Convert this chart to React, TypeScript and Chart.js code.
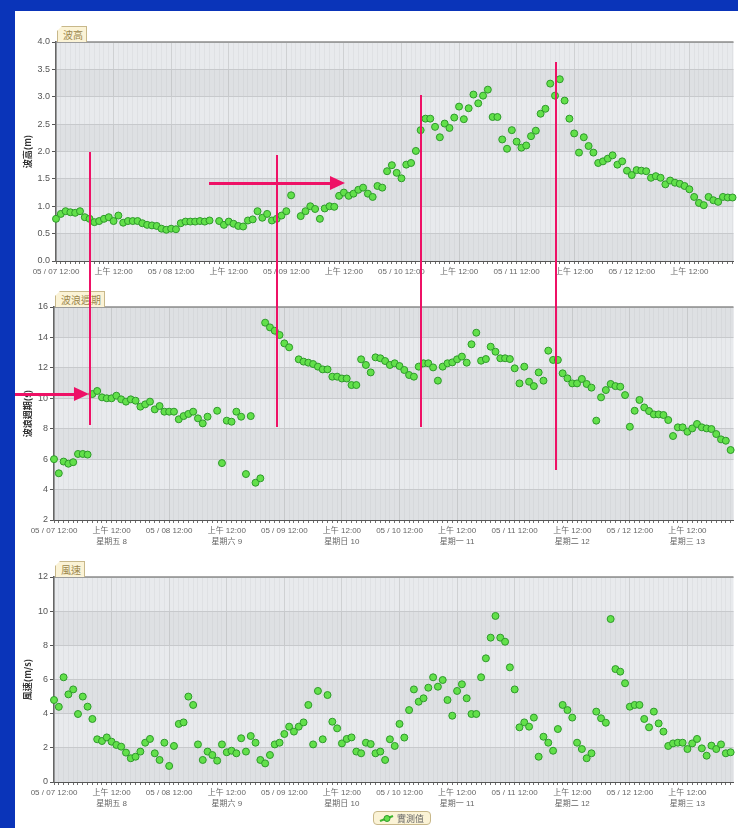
import React, { useEffect, useRef } from "react";
import { Chart, registerables } from "chart.js";

Chart.register(...registerables);

// ---------- data (hourly, starting 05/07 12:00) ----------
const tickHours = [0, 12, 24, 36, 48, 60, 72, 84, 96, 108, 120, 132];
const noonLabels = ["05 / 07 12:00", "05 / 08 12:00", "05 / 09 12:00", "05 / 10 12:00", "05 / 11 12:00", "05 / 12 12:00"];
const midnightLabel = "上午 12:00";
const dayLabels = ["星期五 8", "星期六 9", "星期日 10", "星期一 11", "星期二 12", "星期三 13"];
const seriesName = "實測值";

const waveHeight: (number | null)[] = [
  0.77, 0.86, 0.91, 0.89, 0.88, 0.91, 0.80, 0.77, 0.71, 0.73, 0.77, 0.80, 0.73, 0.83, 0.70, 0.73,
  0.73, 0.73, 0.69, 0.66, 0.65, 0.64, 0.59, 0.57, 0.59, 0.58, 0.69, 0.72, 0.72, 0.72, 0.73, 0.72, 0.74,
  null,
  0.73, 0.66, 0.72, 0.68, 0.64, 0.63, 0.74, 0.76, 0.91, 0.79, 0.86, 0.74, 0.77, 0.83, 0.91, 1.20,
  null,
  0.82, 0.91, 1.00, 0.95, 0.77, 0.96, 1.00, 0.99, 1.19, 1.25, 1.19, 1.23, 1.30, 1.34, 1.23, 1.17,
  1.37, 1.34, 1.64, 1.75, 1.61, 1.51, 1.76, 1.79, 2.01, 2.39, 2.60, 2.60, 2.45, 2.26, 2.51, 2.43,
  2.62, 2.82, 2.59, 2.79, 3.04, 2.88, 3.02, 3.13, 2.63, 2.63, 2.22, 2.05, 2.39, 2.18, 2.07, 2.11,
  2.28, 2.38, 2.69, 2.78, 3.24, 3.02, 3.32, 2.93, 2.60, 2.33, 1.98, 2.26, 2.10, 1.98, 1.79, 1.82,
  1.87, 1.93, 1.76, 1.82, 1.65, 1.57, 1.66, 1.65, 1.64, 1.52, 1.55, 1.52, 1.40, 1.47, 1.43, 1.41,
  1.37, 1.31, 1.17, 1.06, 1.02, 1.17, 1.11, 1.08, 1.17, 1.16, 1.16,
];

const wavePeriod: (number | null)[] = [
  6.0, 5.07, 5.84, 5.7, 5.8, 6.34, 6.34, 6.3, 10.28, 10.48, 10.06, 10.0, 10.0, 10.17, 9.93, 9.78,
  9.93, 9.84, 9.45, 9.6, 9.78, 9.27, 9.49, 9.12, 9.12, 9.12, 8.62, 8.83, 8.97, 9.12, 8.68, 8.35, 8.79,
  null,
  9.18, 5.74, 8.53, 8.46, 9.12, 8.79, 5.02, 8.83, 4.45, 4.74, 14.97, 14.66, 14.44, 14.16, 13.61, 13.35,
  null,
  12.56, 12.41, 12.34, 12.25, 12.08, 11.9, 11.9, 11.42, 11.42, 11.3, 11.3, 10.87, 10.87, 12.56, 12.19, 11.7,
  12.69, 12.63, 12.45, 12.19, 12.3, 12.12, 11.86, 11.53, 11.42, 12.08, 12.3, 12.3, 12.03, 11.16, 12.08, 12.3,
  12.36, 12.56, 12.74, 12.34, 13.55, 14.31, 12.47, 12.58, 13.39, 13.06, 12.63, 12.63, 12.58, 11.97, 10.98, 12.08,
  11.09, 10.8, 11.7, 11.16, 13.13, 12.52, 12.52, 11.64, 11.31, 10.98, 10.98, 11.27, 10.94, 10.7, 8.53, 10.06,
  10.54, 10.94, 10.8, 10.76, 10.21, 8.13, 9.18, 9.89, 9.4, 9.16, 8.94, 8.94, 8.9, 8.57, 7.52, 8.09,
  8.09, 7.8, 8.02, 8.31, 8.09, 8.02, 7.98, 7.65, 7.3, 7.21, 6.6,
];

const windSpeed: (number | null)[] = [
  4.8, 4.4, 6.13, 5.13, 5.42, 3.98, 5.0, 4.41, 3.69, 2.5, 2.4, 2.61, 2.36, 2.17, 2.07, 1.72,
  1.39, 1.48, 1.78, 2.3, 2.52, 1.68, 1.29, 2.3, 0.94, 2.11, 3.4, 3.49, 5.0, 4.51, 2.2, 1.29,
  1.78, 1.58, 1.25, 2.2, 1.74, 1.83, 1.68, 2.56, 1.78, 2.69, 2.3, 1.29, 1.09, 1.58, 2.2, 2.3,
  2.81, 3.24, 2.95, 3.24, 3.49, 4.51, 2.2, 5.33, 2.5, 5.09, 3.53, 3.14, 2.26, 2.52, 2.61, 1.78,
  1.68, 2.3, 2.22, 1.68, 1.78, 1.29, 2.5, 2.11, 3.4, 2.6, 4.21, 5.42, 4.7, 4.9, 5.52, 6.13,
  5.58, 5.97, 4.8, 3.88, 5.33, 5.72, 4.9, 3.98, 3.98, 6.13, 7.24, 8.45, 9.72, 8.45, 8.21, 6.71,
  5.42, 3.2, 3.49, 3.24, 3.77, 1.48, 2.65, 2.3, 1.83, 3.1, 4.51, 4.21, 3.77, 2.3, 1.93, 1.39,
  1.68, 4.12, 3.73, 3.47, 9.54, 6.61, 6.46, 5.78, 4.41, 4.51, 4.51, 3.69, 3.2, 4.12, 3.43, 2.95,
  2.11, 2.26, 2.3, 2.3, 1.93, 2.26, 2.52, 1.97, 1.54, 2.13, 1.93, 2.2, 1.68, 1.74,
];

// ---------- styling ----------
const LABEL_FONT = "'Liberation Sans', 'Noto Sans CJK TC', sans-serif";
const CJK_FONT = "'Noto Sans CJK TC', 'Liberation Sans', sans-serif";
const RED = "#ee1166";

type PanelCfg = {
  key: string;
  values: (number | null)[];
  yMin: number;
  yMax: number;
  yStep: number;
  decimals: number;
  yTitle: string;
  showDays: boolean;
  top: number;
  height: number;
  yAxisW: number;
  xAxisH: number;
  xMax: number;
};

const panels: PanelCfg[] = [
  { key: "h", values: waveHeight, yMin: 0, yMax: 4, yStep: 0.5, decimals: 1, yTitle: "波高(m)", showDays: false, top: 30, height: 251, yAxisW: 41, xAxisH: 20, xMax: 141.2 },
  { key: "p", values: wavePeriod, yMin: 2, yMax: 16, yStep: 2, decimals: 0, yTitle: "波浪週期(s)", showDays: true, top: 295, height: 257, yAxisW: 39, xAxisH: 32, xMax: 141.6 },
  { key: "w", values: windSpeed, yMin: 0, yMax: 12, yStep: 2, decimals: 0, yTitle: "風速(m/s)", showDays: true, top: 565, height: 249, yAxisW: 39, xAxisH: 32, xMax: 141.6 },
];

const bandPlugin = {
  id: "bands",
  beforeDraw(chart: any) {
    const { ctx, chartArea, scales } = chart;
    const { left, right, top, bottom } = chartArea;
    const y = scales.y;
    ctx.save();
    ctx.fillStyle = "#e8eaed";
    ctx.fillRect(left, top, right - left, bottom - top);
    const ticks = y.ticks;
    for (let i = 0; i < ticks.length - 1; i++) {
      if (i % 2 === 0) {
        const y0 = y.getPixelForValue(ticks[i].value);
        const y1 = y.getPixelForValue(ticks[i + 1].value);
        ctx.fillStyle = "#dee0e3";
        ctx.fillRect(left, y1, right - left, y0 - y1);
      }
    }
    ctx.restore();
  },
  afterDraw(chart: any) {
    const { ctx, chartArea } = chart;
    ctx.save();
    ctx.strokeStyle = "#8c8c8c";
    ctx.lineWidth = 1.5;
    ctx.beginPath();
    ctx.moveTo(chartArea.left, chartArea.top);
    ctx.lineTo(chartArea.right, chartArea.top);
    ctx.stroke();
    ctx.restore();
  },
};

function xLabel(value: number, showDays: boolean): string | string[] {
  if (!tickHours.includes(value)) return "";
  const idx = value / 12;
  if (idx % 2 === 0) return noonLabels[idx / 2];
  const day = dayLabels[(idx - 1) / 2];
  return showDays ? [midnightLabel, day] : midnightLabel;
}

function Panel({ cfg }: { cfg: PanelCfg }) {
  const ref = useRef<HTMLCanvasElement | null>(null);
  useEffect(() => {
    const pts: { x: number; y: number }[] = [];
    cfg.values.forEach((v, i) => {
      if (v !== null) pts.push({ x: i, y: v });
    });
    const hourly: { value: number }[] = [];
    for (let h = 0; h <= Math.floor(cfg.xMax); h++) hourly.push({ value: h });

    const chart = new Chart(ref.current as HTMLCanvasElement, {
      type: "scatter",
      data: {
        datasets: [
          {
            label: seriesName,
            data: pts,
            backgroundColor: "#62e04a",
            borderColor: "#2f9a2c",
            borderWidth: 1,
            pointRadius: 3.5,
            pointHoverRadius: 3.5,
            clip: 8,
          } as any,
        ],
      },
      options: {
        responsive: false,
        animation: false,
        devicePixelRatio: 1,
        layout: { padding: { top: 12, left: 0, right: 0, bottom: 0 } },
        plugins: { legend: { display: false }, tooltip: { enabled: false } },
        scales: {
          x: {
            type: "linear",
            min: 0,
            max: cfg.xMax,
            afterBuildTicks: (s: any) => {
              s.ticks = hourly.map((t) => ({ value: t.value }));
            },
            afterFit: (s: any) => {
              s.height = cfg.xAxisH;
            },
            ticks: {
              autoSkip: false,
              maxRotation: 0,
              minRotation: 0,
              padding: 2,
              color: "#666",
              font: { family: LABEL_FONT, size: 8, lineHeight: 1.4 },
              callback: (v: any) => xLabel(Number(v), cfg.showDays),
            },
            grid: {
              color: (c: any) =>
                c.tick && c.tick.value % 12 === 0 ? "rgba(110,110,110,0.2)" : "rgba(0,0,0,0.035)",
              tickLength: 3,
              tickColor: "#6f6f6f",
            },
            border: { color: "#555", width: 1 },
          },
          y: {
            min: cfg.yMin,
            max: cfg.yMax,
            afterFit: (s: any) => {
              s.width = cfg.yAxisW;
            },
            ticks: {
              stepSize: cfg.yStep,
              padding: 2,
              color: "#555",
              font: { family: LABEL_FONT, size: 9 },
              callback: (v: any) => Number(v).toFixed(cfg.decimals),
            },
            title: {
              display: true,
              text: cfg.yTitle,
              color: "#333",
              font: { family: CJK_FONT, size: 9, weight: "bold" },
              padding: { top: 7, bottom: 0 },
            },
            grid: { color: "#c7c9cc", tickLength: 4, tickColor: "#555" },
            border: { color: "#666", width: 1.5 },
          },
        },
      } as any,
      plugins: [bandPlugin],
    });
    return () => chart.destroy();
  }, [cfg]);
  return (
    <canvas
      ref={ref}
      width={723}
      height={cfg.height}
      style={{ position: "absolute", left: 15, top: cfg.top, width: 723, height: cfg.height }}
    />
  );
}

function Tab({ text, left, top }: { text: string; left: number; top: number }) {
  return (
    <div
      style={{
        position: "absolute",
        left,
        top,
        height: 15,
        padding: "0 3px 0 5px",
        background: "#fbf3d6",
        border: "1px solid #c8b88a",
        borderBottom: "none",
        fontFamily: CJK_FONT,
        fontSize: 10,
        lineHeight: "15px",
        color: "#9a864c",
        clipPath: "polygon(5px 0, 100% 0, 100% 100%, 0 100%, 0 5px)",
        whiteSpace: "nowrap",
      }}
    >
      {text}
    </div>
  );
}

function VLine({ x, y1, y2 }: { x: number; y1: number; y2: number }) {
  return <div style={{ position: "absolute", left: x - 1, top: y1, width: 2, height: y2 - y1, background: RED }} />;
}

function Arrow({ x1, x2, y }: { x1: number; x2: number; y: number }) {
  const head = 15;
  return (
    <>
      <div style={{ position: "absolute", left: x1, top: y - 1.5, width: x2 - x1 - head + 1, height: 3, background: RED }} />
      <div
        style={{
          position: "absolute",
          left: x2 - head,
          top: y - 7,
          width: 0,
          height: 0,
          borderTop: "7px solid transparent",
          borderBottom: "7px solid transparent",
          borderLeft: `${head}px solid ${RED}`,
        }}
      />
    </>
  );
}

export default function App() {
  return (
    <div style={{ position: "absolute", left: 0, top: 0, width: 738, height: 828, overflow: "hidden", background: "#0a34b9" }}>
      <div style={{ position: "absolute", left: 15, top: 11, width: 723, height: 817, background: "#ffffff" }} />
      {panels.map((p) => (
        <Panel key={p.key} cfg={p} />
      ))}
      <Tab text="波高" left={57} top={26} />
      <Tab text="波浪週期" left={55} top={291} />
      <Tab text="風速" left={55} top={561} />
      {/* annotations */}
      <VLine x={90} y1={152} y2={425} />
      <VLine x={277} y1={155} y2={427} />
      <VLine x={421} y1={95} y2={427} />
      <VLine x={556} y1={62} y2={470} />
      <Arrow x1={209} x2={345} y={183} />
      <Arrow x1={15} x2={89} y={394} />
      {/* legend */}
      <div
        style={{
          position: "absolute",
          left: 373,
          top: 811,
          width: 58,
          height: 14,
          background: "#fbf3d6",
          border: "1px solid #c8b88a",
          borderRadius: 4,
          display: "flex",
          alignItems: "center",
          gap: 3,
          paddingLeft: 5,
          boxSizing: "border-box",
          fontFamily: CJK_FONT,
          fontSize: 9,
          color: "#666",
        }}
      >
        <svg width="15" height="10">
          <line x1="1" y1="8" x2="14" y2="3" stroke="#3fb52f" strokeWidth="2" />
          <circle cx="8" cy="5.5" r="3" fill="#62e04a" stroke="#2f9a2c" strokeWidth="1" />
        </svg>
        <span>{seriesName}</span>
      </div>
    </div>
  );
}
